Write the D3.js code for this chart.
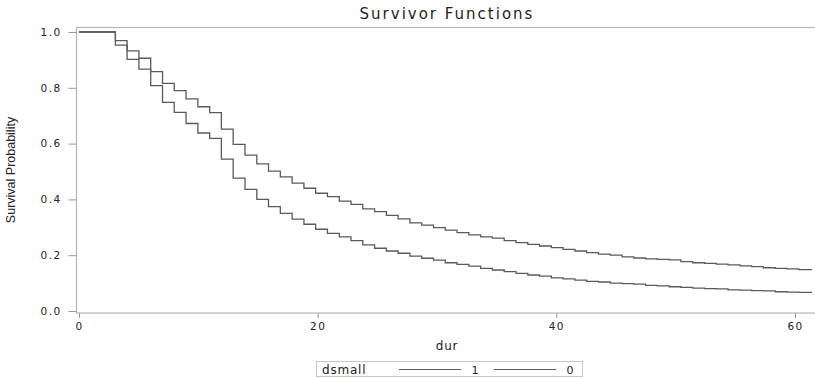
<!DOCTYPE html>
<html lang="en">
<head>
    <meta charset="UTF-8">
    <title>Survivor Functions</title>
    <script src="https://d3js.org/d3.v7.min.js"></script>
    <style>
        body {
            margin: 0;
            background: #fff;
        }
        svg text {
            font-family: "DejaVu Sans", sans-serif;
            fill: #222;
        }
        .tick-label {
            font-size: 10.5px;
            letter-spacing: 1.4px;
        }
    </style>
</head>
<body>
    <div id="chart"></div>

    <script>
        // step times (dur)
        const stepTimes = [3.05, 4.03, 5.02, 6.01, 7.00, 7.98, 8.97, 9.96, 10.95, 11.93,
            12.92, 13.91, 14.90, 15.88, 16.87, 17.86, 18.85, 19.83, 20.82, 21.81,
            22.79, 23.78, 24.77, 25.76, 26.74, 27.73, 28.72, 29.71, 30.69, 31.68,
            32.67, 33.66, 34.64, 35.63, 36.62, 37.61, 38.59, 39.58, 40.57, 41.56,
            42.54, 43.53, 44.52, 45.51, 46.49, 47.48, 48.47, 49.46, 50.44, 51.43,
            52.42, 53.40, 54.39, 55.38, 56.37, 57.35, 58.34, 59.33, 60.32];
        const lastTime = 61.42;

        // survival after each step, dsmall = 1 (upper curve)
        const survival1 = [0.969, 0.932, 0.906, 0.858, 0.816, 0.790, 0.760, 0.732, 0.711, 0.652,
            0.597, 0.559, 0.527, 0.501, 0.481, 0.458, 0.440, 0.422, 0.410, 0.394,
            0.382, 0.366, 0.356, 0.343, 0.330, 0.316, 0.308, 0.299, 0.290, 0.281,
            0.273, 0.266, 0.261, 0.252, 0.245, 0.239, 0.233, 0.227, 0.221, 0.215,
            0.209, 0.204, 0.200, 0.194, 0.190, 0.187, 0.185, 0.183, 0.177, 0.173,
            0.171, 0.168, 0.165, 0.162, 0.159, 0.155, 0.153, 0.151, 0.148];

        // survival after each step, dsmall = 0 (lower curve)
        const survival0 = [0.953, 0.902, 0.867, 0.808, 0.748, 0.712, 0.672, 0.638, 0.619, 0.544,
            0.476, 0.436, 0.400, 0.374, 0.350, 0.329, 0.311, 0.293, 0.278, 0.266,
            0.252, 0.237, 0.225, 0.215, 0.207, 0.197, 0.189, 0.182, 0.173, 0.167,
            0.161, 0.153, 0.147, 0.141, 0.135, 0.129, 0.125, 0.119, 0.115, 0.111,
            0.106, 0.104, 0.100, 0.098, 0.096, 0.092, 0.090, 0.087, 0.085, 0.082,
            0.080, 0.079, 0.076, 0.075, 0.073, 0.072, 0.069, 0.068, 0.067];

        const xTicks = [0, 20, 40, 60];
        const yTicks = [0.0, 0.2, 0.4, 0.6, 0.8, 1.0];
        const legendItems = ["1", "0"];

        const width = 815, height = 378;

        const svg = d3.select("#chart").append("svg")
            .attr("width", width)
            .attr("height", height);

        const x = d3.scaleLinear().domain([0, 60]).range([79, 795]);
        const y = d3.scaleLinear().domain([0, 1]).range([311, 32]);

        // plot frame
        svg.append("rect")
            .attr("x", 76.5)
            .attr("y", 27.5)
            .attr("width", 745)
            .attr("height", 285.5)
            .attr("fill", "none")
            .attr("stroke", "#b4b4b4")
            .attr("stroke-width", 1.2);

        // y axis
        const yAxis = svg.append("g")
            .attr("transform", "translate(76.5,0)")
            .call(d3.axisLeft(y).tickValues(yTicks).tickFormat(d3.format(".1f")).tickSize(8).tickPadding(7));
        yAxis.select(".domain").remove();
        yAxis.selectAll("line").attr("stroke", "#999");
        yAxis.selectAll("text").attr("class", "tick-label").attr("fill", "#222");

        // x axis
        const xAxis = svg.append("g")
            .attr("transform", "translate(0,313)")
            .call(d3.axisBottom(x).tickValues(xTicks).tickFormat(d3.format("d")).tickSize(5).tickPadding(5));
        xAxis.select(".domain").remove();
        xAxis.selectAll("line").attr("stroke", "#999");
        xAxis.selectAll("text").attr("class", "tick-label").attr("fill", "#222");

        // curves
        const line = d3.line()
            .x(d => x(d[0]))
            .y(d => y(d[1]))
            .curve(d3.curveStepAfter);

        function buildPoints(values) {
            const pts = [[0, 1]];
            stepTimes.forEach((t, i) => pts.push([t, values[i]]));
            pts.push([lastTime, values[values.length - 1]]);
            return pts;
        }

        [survival1, survival0].forEach(values => {
            svg.append("path")
                .datum(buildPoints(values))
                .attr("d", line)
                .attr("fill", "none")
                .attr("stroke", "#5a5a5a")
                .attr("stroke-width", 1.3);
        });

        // title and axis labels
        svg.append("text")
            .attr("x", 447)
            .attr("y", 19)
            .attr("text-anchor", "middle")
            .style("font-size", "15px")
            .style("letter-spacing", "2px")
            .text("Survivor Functions");

        svg.append("text")
            .attr("transform", "translate(15,170) rotate(-90)")
            .attr("text-anchor", "middle")
            .style("font-family", "'Liberation Sans Narrow', 'Liberation Sans', sans-serif")
            .style("font-size", "12.5px")
            .text("Survival Probability");

        svg.append("text")
            .attr("x", 447)
            .attr("y", 350)
            .attr("text-anchor", "middle")
            .style("font-size", "12px")
            .style("letter-spacing", "0.8px")
            .text("dur");

        // legend
        const legend = svg.append("g");
        legend.append("rect")
            .attr("x", 316.5)
            .attr("y", 361.5)
            .attr("width", 266)
            .attr("height", 15)
            .attr("fill", "none")
            .attr("stroke", "#c8c8c8");

        legend.append("text")
            .attr("x", 322)
            .attr("y", 373.5)
            .style("font-size", "12px")
            .style("letter-spacing", "0.8px")
            .text("dsmall");

        legendItems.forEach((label, i) => {
            const x0 = 399 + i * 95;
            legend.append("line")
                .attr("x1", x0).attr("x2", x0 + 62)
                .attr("y1", 369.5).attr("y2", 369.5)
                .attr("stroke", "#5a5a5a")
                .attr("stroke-width", 1);
            legend.append("text")
                .attr("x", x0 + 76)
                .attr("y", 373.5)
                .attr("text-anchor", "middle")
                .style("font-size", "11px")
                .text(label);
        });
    </script>
</body>
</html>
